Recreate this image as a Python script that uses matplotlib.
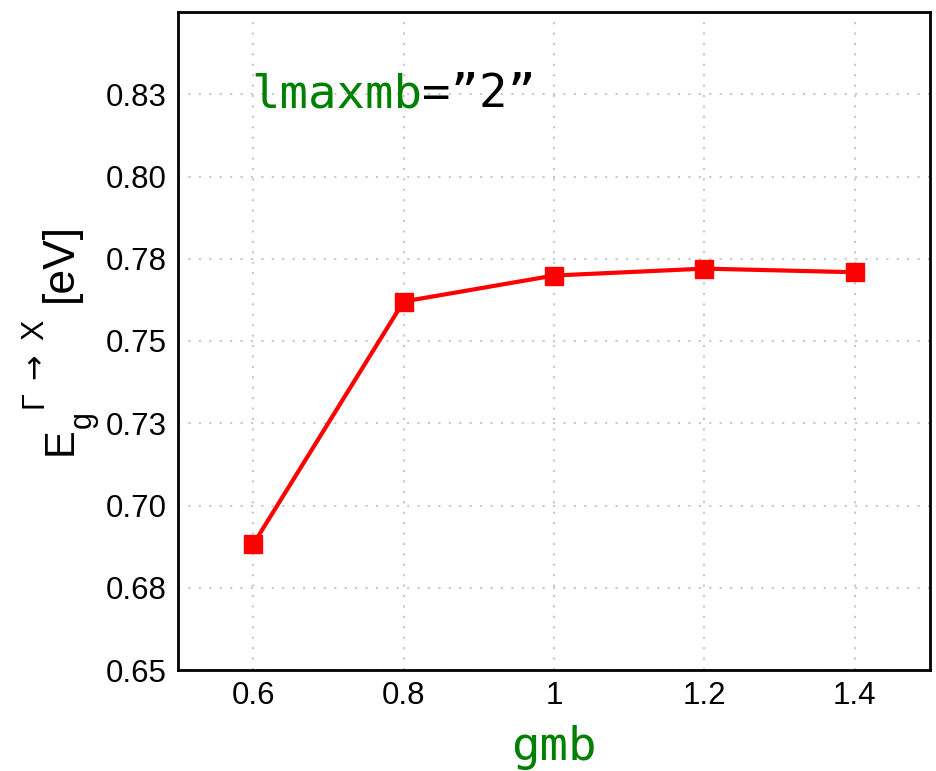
import matplotlib
matplotlib.use("Agg")
import matplotlib.pyplot as plt

gmb = [0.6, 0.8, 1.0, 1.2, 1.4]
gap = [0.6882, 0.7620, 0.7699, 0.7720, 0.7709]
xtick_vals = [0.6, 0.8, 1.0, 1.2, 1.4]
xtick_labels = ["0.6", "0.8", "1", "1.2", "1.4"]
ytick_vals = [0.65, 0.675, 0.70, 0.725, 0.75, 0.775, 0.80, 0.825]
ytick_labels = ["0.65", "0.68", "0.70", "0.73", "0.75", "0.78", "0.80", "0.83"]

W, H = 937, 771
fig = plt.figure(figsize=(W / 100, H / 100), dpi=100)
ax = fig.add_axes([178 / W, 1 - 670 / H, 752 / W, 658 / H])

ax.plot(gmb, gap, color='red', lw=3, marker='s', markersize=13, zorder=3)

ax.set_xlim(0.5, 1.5)
ax.set_ylim(0.65, 0.85)
ax.set_xticks(xtick_vals)
ax.set_xticklabels(xtick_labels, fontfamily='Liberation Sans', fontsize=22.5)
ax.set_yticks(ytick_vals)
ax.set_yticklabels(ytick_labels, fontfamily='Liberation Sans', fontsize=22.5)
ax.tick_params(length=0, pad=8)
ax.grid(True, linestyle=(0, (1, 4)), color='#c8c8c8', lw=1.5)
for s in ax.spines.values():
    s.set_linewidth(2)

ax.set_xlabel("gmb", color='green', fontfamily='DejaVu Sans Mono', fontsize=34, labelpad=10)

def px(x, y):
    return x / W, 1 - y / H

fam = ['Liberation Sans', 'DejaVu Sans']
kw = dict(rotation=90, rotation_mode='anchor', ha='left', va='baseline')
fig.text(*px(72, 455), "E", fontsize=30, fontfamily=fam, **kw)
fig.text(*px(91, 428), "g", fontsize=22, fontfamily=fam, **kw)
fig.text(*px(43, 408), "\u0393", fontsize=22, fontfamily=fam, **kw)
fig.text(*px(43, 379), "\u2192", fontsize=22, fontfamily='DejaVu Sans', **kw)
fig.text(*px(43, 340), "X", fontsize=22, fontfamily=fam, **kw)
fig.text(*px(72, 302), "[eV]", fontsize=32, fontfamily=fam, **kw)

t1 = ax.text(0.097, 0.8556, "lmaxmb", color='green', fontfamily='DejaVu Sans Mono', fontsize=34,
             transform=ax.transAxes, va='baseline', ha='left')
fig.canvas.draw()
bb = t1.get_window_extent()
x_end = ax.transAxes.inverted().transform((bb.x1, bb.y0))[0]
ax.text(x_end, 0.8556, "=\u201d2\u201d", color='black', fontfamily='DejaVu Sans Mono', fontsize=34,
        transform=ax.transAxes, va='baseline', ha='left')

fig.savefig("out.png", dpi=100)
